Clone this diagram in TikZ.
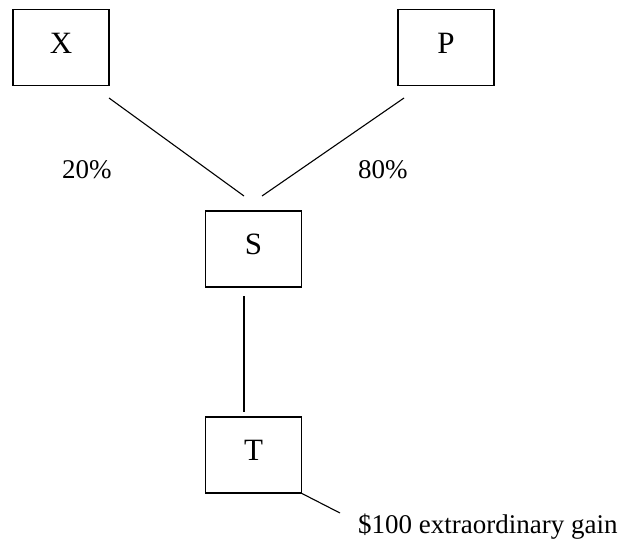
\documentclass[tikz,border=0pt]{standalone}
\usepackage{fontspec}
\setmainfont{Liberation Serif}
\begin{document}
\begin{tikzpicture}[x=1pt,y=-1pt,
  entity/.style={draw, line width=1.1pt, minimum width=96pt, minimum height=76pt,
    inner sep=0pt, font=\fontsize{31}{35}\selectfont, text height=21pt, text depth=10pt},
  tag/.style={font=\fontsize{27}{31}\selectfont, inner sep=0pt},
  link/.style={line width=1.1pt}]
\useasboundingbox (0,0) rectangle (619,541);

% ownership boxes
\node[entity] (X) at (61,47.5) {X};
\node[entity] (P) at (446,47.5) {P};
\node[entity] (S) at (253.5,249) {S};
\node[entity] (T) at (253.5,455) {T};

% ends of the ownership lines
\coordinate (xs-a) at (109,98);
\coordinate (xs-b) at (244,196);
\coordinate (ps-a) at (404,98);
\coordinate (ps-b) at (262,196);
\coordinate (st-a) at (244,296);
\coordinate (st-b) at (244,412);
\coordinate (gain) at (340,513);

\draw[link] (xs-a) -- (xs-b);
\draw[link] (ps-a) -- (ps-b);
\draw[link] (st-a) -- (st-b);
\draw[link] (T.south east) -- (gain);

% percentages and gain note
\node[tag, anchor=base west] (px) at (62,178) {20\%};
\node[tag, anchor=base west] (pp) at (358,178) {80\%};
\node[tag, anchor=base west] (note) at (358,533) {\$100 extraordinary gain};
\end{tikzpicture}
\end{document}
